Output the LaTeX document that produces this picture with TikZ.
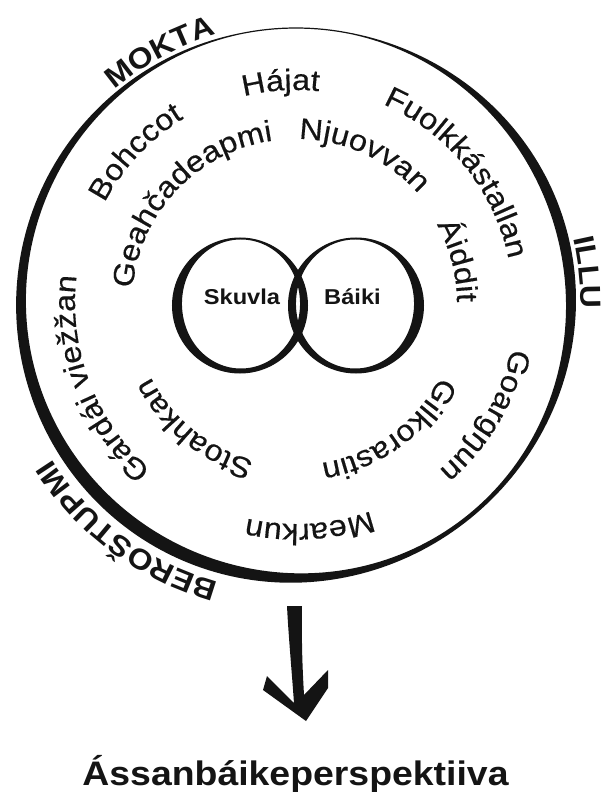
\documentclass[tikz,border=0pt]{standalone}
\usepackage{fontspec}
\setmainfont{Liberation Sans}
\newfontfamily\wordfamily[FakeStretch=1.1,FakeBold=0.4]{Liberation Sans}
\newfontfamily\boldfamily[FakeStretch=1.1]{Liberation Sans}
\newcommand\wordfont{\wordfamily\fontsize{29.5}{29.5}\selectfont}
\newcommand\lblfont{\boldfamily\bfseries\fontsize{29}{29}\selectfont}
\newcommand\vennfont{\boldfamily\bfseries\fontsize{21.5}{21.5}\selectfont}
\newcommand\ttlfont{\boldfamily\bfseries\fontsize{34}{34}\selectfont}
\usetikzlibrary{decorations.text,calc}
\definecolor{ink}{RGB}{20,20,20}
\newcommand\ringword[4]{%
  \path[decorate,decoration={text along path,text align=center,text color=ink,text={|#3|#4}}]
    ({#1+80}:#2pt) arc[start angle={#1+80},end angle={#1-80},radius=#2pt];}
\begin{document}
\begin{tikzpicture}[x=1pt,y=1pt,
  declare function={
    wo(\t)=max(1.2,7.46-1.244*cos(\t)-3.088*sin(\t)+2.417*cos(2*\t)+2.598*sin(2*\t)+1.333*cos(3*\t)+1.25*sin(3*\t));
    wl(\t)=max(1.5,6.25-cos(\t)-1.5*sin(\t)+2.75*cos(2*\t));
    wr(\t)=max(1.5,6.25+cos(\t)-1.5*sin(\t)+2.75*cos(2*\t));
  },
  vennlbl/.style={font=\vennfont,text=ink,inner sep=0pt,anchor=base},
  brush/.style={fill=ink,even odd rule}]
\useasboundingbox (-296,-489) rectangle (309,303);
% outer ring (brush stroke of varying width)
\coordinate (ringc) at (0,0);
\begin{scope}[shift={(ringc)}]
\fill[brush] plot[domain=0:360,samples=241,variable=\t] ({(275+wo(\t)/2)*cos(\t)},{(275+wo(\t)/2)*sin(\t)}) -- cycle
  plot[domain=0:360,samples=241,variable=\t] ({(275-wo(\t)/2)*cos(\t)},{(275-wo(\t)/2)*sin(\t)}) -- cycle;
\end{scope}
% Venn circles
\coordinate (vl) at (-56,-2.5);
\coordinate (vr) at (60,-2.5);
\begin{scope}[shift={(vl)}]
\fill[brush] plot[domain=0:360,samples=181,variable=\t] ({68*cos(\t)},{68*sin(\t)}) -- cycle
  plot[domain=0:360,samples=181,variable=\t] ({(68-wl(\t))*cos(\t)},{(68-wl(\t))*sin(\t)}) -- cycle;
\end{scope}
\begin{scope}[shift={(vr)}]
\fill[brush] plot[domain=0:360,samples=181,variable=\t] ({68*cos(\t)},{68*sin(\t)}) -- cycle
  plot[domain=0:360,samples=181,variable=\t] ({(68-wr(\t))*cos(\t)},{(68-wr(\t))*sin(\t)}) -- cycle;
\end{scope}
\node[vennlbl] (skuvla) at (-54,-2) {Skuvla};
\node[vennlbl] (baiki) at (56.5,-2) {Báiki};
% ring words
\ringword{94}{213}{\wordfont}{Hájat}
\ringword{136.8}{216}{\wordfont}{Bohccot}
\ringword{39}{217}{\wordfont}{Fuolkkástallan}
\ringword{201}{221}{\wordfont}{Gárdái viežžan}
\ringword{273.5}{221}{\wordfont}{Mearkun}
\ringword{329.3}{220}{\wordfont}{Goargŋun}
\ringword{136.5}{164}{\wordfont}{Geahčadeapmi}
\ringword{65.4}{164}{\wordfont}{Njuovvan}
\ringword{14.7}{161}{\wordfont}{Áiddit}
\ringword{231}{163}{\wordfont}{Stoahkan}
\ringword{306}{162}{\wordfont}{Gilkorastin}
\ringword{118.5}{280}{\lblfont}{MOKTA}
\ringword{6}{285}{\lblfont}{ILLU}
\ringword{233.5}{290}{\lblfont}{BEROŠTUPMI}
% title
\node[font=\ttlfont,text=ink,anchor=base,inner sep=0pt] (title) at (-0.5,-482) {Ássanbáikeperspektiiva};
% brush arrow from ring to title
\coordinate (arrowtop) at (-1.5,-303);
\begin{scope}[shift={(arrowtop)}]
\fill[brush] (-7.5,0) -- (7.5,0) .. controls (7,-40) and (8,-62) .. (9.5,-89)
  -- (33.5,-64) -- (33.5,-82) -- (11.5,-115) -- (-31.5,-84) -- (-27.5,-70) -- (-0.5,-97)
  .. controls (-3,-62) and (-6,-30) .. (-7.5,0) -- cycle;
\end{scope}
\end{tikzpicture}
\end{document}
